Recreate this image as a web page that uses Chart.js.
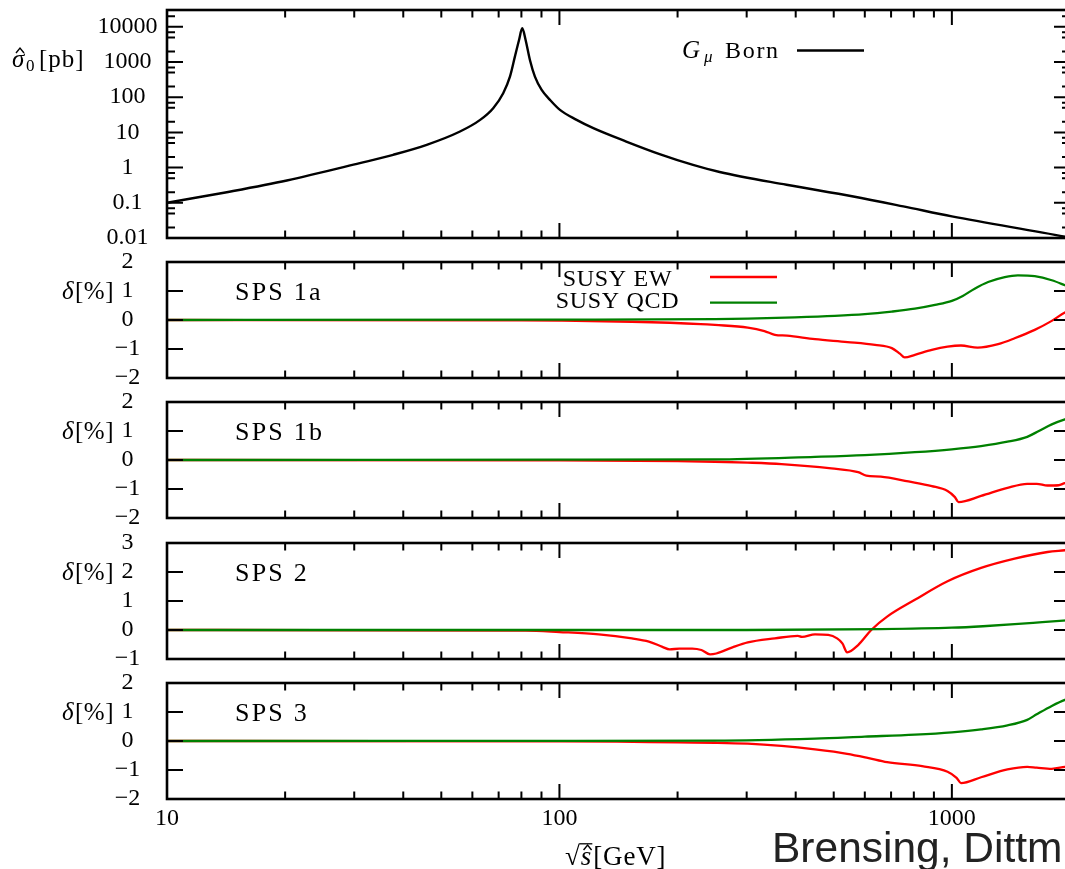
<!DOCTYPE html>
<html><head><meta charset="utf-8">
<script src="https://cdn.jsdelivr.net/npm/chart.js@4.4.1/dist/chart.umd.min.js"></script>
<style>
html,body{margin:0;padding:0;overflow:hidden;background:#fff;width:1065px;height:869px;position:relative;}
canvas.pc{position:absolute;left:0;}
</style></head><body>
<script>
// ---------------- data ----------------
const xTickValues = [10, 100, 1000];
const bornTickValues = [0.01, 0.1, 1, 10, 100, 1000, 10000];

const bornX = [10, 14.2, 20.2, 31, 37.7, 45.9, 55.8, 62.8, 67.8, 71.9, 74.8, 77, 78.9, 80.4, 82, 84.1, 86.6, 90.1, 94.6, 100.3, 110.6, 122, 148, 180, 219, 256, 379, 561, 752, 1000, 1941, 2000];
const bornY = [0.1, 0.2, 0.43, 1.34, 2.31, 4.43, 10.6, 22.7, 48.8, 130, 384, 1420, 4230, 9080, 4230, 1140, 384, 161, 84, 43.6, 22.7, 13.2, 5.5, 2.42, 1.19, 0.75, 0.325, 0.151, 0.079, 0.041, 0.0109, 0.0102];

const sps1aEwX = [10, 80, 100, 153, 229, 249, 302, 333, 354, 380, 448, 542, 637, 703, 737, 758, 805, 889, 975, 1055, 1163, 1312, 1445, 1626, 1797, 1941, 2000];
const sps1aEwY = [0, -0.01, -0.02, -0.06, -0.14, -0.17, -0.26, -0.38, -0.51, -0.54, -0.66, -0.76, -0.86, -0.97, -1.16, -1.29, -1.20, -1.03, -0.92, -0.88, -0.95, -0.83, -0.63, -0.34, -0.03, 0.26, 0.33];
const sps1aQcdX = [10, 100, 249, 302, 398, 503, 600, 703, 805, 906, 1000, 1066, 1143, 1237, 1364, 1473, 1626, 1797, 1941, 2000];
const sps1aQcdY = [0, 0.01, 0.03, 0.05, 0.09, 0.14, 0.2, 0.29, 0.39, 0.52, 0.66, 0.83, 1.08, 1.31, 1.48, 1.54, 1.51, 1.37, 1.20, 1.13];

const sps1bEwX = [10, 100, 200, 249, 302, 368, 493, 577, 605, 659, 775, 889, 975, 1018, 1040, 1187, 1386, 1556, 1645, 1753, 1870, 1941, 2000];
const sps1bEwY = [0, -0.01, -0.04, -0.06, -0.09, -0.14, -0.29, -0.42, -0.54, -0.57, -0.74, -0.90, -1.07, -1.28, -1.45, -1.24, -0.96, -0.82, -0.82, -0.88, -0.87, -0.80, -0.78];
const sps1bQcdX = [10, 100, 249, 448, 600, 805, 1000, 1187, 1386, 1556, 1666, 1797, 1941, 2000];
const sps1bQcdY = [0, 0.01, 0.02, 0.11, 0.17, 0.27, 0.37, 0.48, 0.63, 0.80, 1.0, 1.23, 1.40, 1.45];

const sps2EwX = [10, 82, 100, 126, 153, 169, 183, 191, 202, 218, 230, 242, 251, 276, 302, 354, 405, 415, 448, 484, 510, 526, 541, 577, 623, 684, 805, 975, 1187, 1445, 1753, 1941, 2000];
const sps2EwY = [0, -0.02, -0.07, -0.15, -0.29, -0.40, -0.58, -0.67, -0.64, -0.64, -0.69, -0.84, -0.81, -0.60, -0.43, -0.29, -0.20, -0.24, -0.15, -0.17, -0.29, -0.46, -0.77, -0.52, 0.0, 0.46, 1.04, 1.68, 2.14, 2.46, 2.69, 2.75, 2.77];
const sps2QcdX = [10, 300, 659, 1000, 1200, 1445, 1700, 2000];
const sps2QcdY = [0, 0.0, 0.03, 0.08, 0.13, 0.2, 0.27, 0.34];

const sps3EwX = [10, 100, 140, 200, 249, 302, 368, 448, 541, 610, 684, 840, 975, 1028, 1055, 1187, 1386, 1556, 1645, 1797, 1941, 2000];
const sps3EwY = [0, -0.01, -0.02, -0.05, -0.06, -0.09, -0.17, -0.29, -0.44, -0.58, -0.73, -0.87, -1.06, -1.27, -1.45, -1.25, -0.98, -0.89, -0.92, -0.96, -0.89, -0.87];
const sps3QcdX = [10, 100, 249, 448, 600, 805, 1000, 1187, 1386, 1556, 1645, 1797, 1941, 2000];
const sps3QcdY = [0, 0.005, 0.01, 0.08, 0.15, 0.22, 0.30, 0.40, 0.54, 0.73, 0.92, 1.21, 1.42, 1.47];

const panelNames = ['SPS 1a', 'SPS 1b', 'SPS 2', 'SPS 3'];
const deltaRanges = [[-2, 2], [-2, 2], [-1, 3], [-2, 2]];
const ewSeries = [[sps1aEwX, sps1aEwY], [sps1bEwX, sps1bEwY], [sps2EwX, sps2EwY], [sps3EwX, sps3EwY]];
const qcdSeries = [[sps1aQcdX, sps1aQcdY], [sps1bQcdX, sps1bQcdY], [sps2QcdX, sps2QcdY], [sps3QcdX, sps3QcdY]];
const legendEw = 'SUSY EW';
const legendQcd = 'SUSY QCD';
const xRange = [10, 2000];
const bornRange = [0.01, 30000];

// ---------------- layout / style ----------------
const SERIF = "'Liberation Serif', 'Times New Roman', serif";
const SANS = "'Liberation Sans', Arial, sans-serif";
const PANEL_TOP = [10, 262, 402, 543, 683];
const PANEL_BOTTOM = [238, 378, 518, 659, 799];
const PLOT_LEFT = 167, PLOT_RIGHT = 1070, CANVAS_W = 1080, PAD = 50, XAXIS_H = 70;
const LABEL_CX = 127.5;
const RED = '#ff0000', GREEN = '#008000';

Chart.defaults.font.family = SERIF;
Chart.defaults.font.size = 24;
Chart.defaults.color = '#000';

const mctx = document.createElement('canvas').getContext('2d');
function measure(t, font) { mctx.font = font; return mctx.measureText(t).width; }
function fmtDelta(v) { return v < 0 ? '\u2212' + Math.abs(v) : String(v); }
function fmtPlain(v) { return String(v); }
function tickPad(labels) {
  const w = Math.max(...labels.map(l => measure(l, '24px ' + SERIF)));
  return PLOT_LEFT - LABEL_CX - w / 2;
}
function pts(xs, ys) { return xs.map((x, i) => ({ x, y: ys[i] })); }

function setLS(ctx, v) { if ('letterSpacing' in ctx) ctx.letterSpacing = v; }

function txt(ctx, t, x, y, font, opts = {}) {
  ctx.font = font;
  setLS(ctx, opts.ls || '0px');
  ctx.textAlign = opts.align || 'left';
  ctx.textBaseline = 'alphabetic';
  ctx.fillStyle = opts.color || '#000';
  ctx.fillText(t, x, y);
  const w = ctx.measureText(t).width;
  setLS(ctx, '0px');
  return w;
}
function caret(ctx, cx, yBase, w, h) {
  ctx.save();
  ctx.beginPath();
  ctx.moveTo(cx - w, yBase); ctx.lineTo(cx, yBase - h); ctx.lineTo(cx + w, yBase);
  ctx.lineWidth = 1.4; ctx.strokeStyle = '#000'; ctx.lineJoin = 'miter';
  ctx.stroke();
  ctx.restore();
}

function xMinorValues() {
  const out = [];
  xTickValues.forEach(d => { for (let k = 2; k <= 9; k++) { const v = k * d; if (v < xRange[1]) out.push(v); } });
  return out;
}
function bornMinorValues() {
  const out = [];
  bornTickValues.forEach(d => [2, 5, 7].forEach(k => { const v = k * d; if (v < bornRange[1]) out.push(v); }));
  return out;
}

function framePlugin(idx) {
  return {
    id: 'frame' + idx,
    afterDraw(chart) {
      const { ctx, chartArea: a, scales: { x, y } } = chart;
      ctx.save();
      ctx.strokeStyle = '#000';
      ctx.lineCap = 'butt';
      ctx.lineWidth = 2;
      const vt = (px, len) => {
        ctx.beginPath();
        ctx.moveTo(px, a.bottom); ctx.lineTo(px, a.bottom - len);
        ctx.moveTo(px, a.top); ctx.lineTo(px, a.top + len);
        ctx.stroke();
      };
      const ht = (py, len) => {
        ctx.beginPath();
        ctx.moveTo(a.left, py); ctx.lineTo(a.left + len, py);
        ctx.moveTo(a.right, py); ctx.lineTo(a.right - len, py);
        ctx.stroke();
      };
      xTickValues.forEach(v => vt(x.getPixelForValue(v), 15));
      xMinorValues().forEach(v => vt(x.getPixelForValue(v), 7.5));
      if (idx === 0) {
        bornTickValues.forEach(v => ht(y.getPixelForValue(v), 16));
        bornMinorValues().forEach(v => ht(y.getPixelForValue(v), 8));
      } else {
        const [lo, hi] = deltaRanges[idx - 1];
        for (let v = lo + 1; v < hi; v++) ht(y.getPixelForValue(v), 16);
      }
      ctx.lineWidth = 2.6;
      ctx.strokeRect(a.left, a.top, a.right - a.left, a.bottom - a.top);

      const T = a.top;           // canvas y of the panel top
      if (idx === 0) {
        const Y = py => T + (py - PANEL_TOP[0]);   // page y -> canvas y
        txt(ctx, '\u03c3', 12, Y(67), 'italic 25px ' + SERIF);
        caret(ctx, 20, Y(53), 4, 5);
        txt(ctx, '0', 26, Y(71), '17px ' + SERIF);
        txt(ctx, '[pb]', 39, Y(67), '25px ' + SERIF, { ls: '1px' });
        txt(ctx, 'G', 682, Y(58), 'italic 25px ' + SERIF);
        txt(ctx, '\u03bc', 704, Y(62), 'italic 17px ' + SERIF);
        txt(ctx, 'Born', 725, Y(58), '24px ' + SERIF, { ls: '1.7px' });
        ctx.beginPath(); ctx.moveTo(797, Y(50.5)); ctx.lineTo(864, Y(50.5));
        ctx.lineWidth = 2.4; ctx.strokeStyle = chart.data.datasets[0].borderColor; ctx.stroke();
      } else {
        txt(ctx, '\u03b4', 62, T + 37, 'italic 25px ' + SERIF);
        txt(ctx, '[%]', 75, T + 37, '25px ' + SERIF, { ls: '0.5px' });
        txt(ctx, panelNames[idx - 1], 235, T + 38, '26px ' + SERIF, { ls: '2.2px' });
        if (idx === 1) {
          txt(ctx, legendEw, 617.5, T + 23.5, '24px ' + SERIF, { ls: '0.7px', align: 'center' });
          txt(ctx, legendQcd, 617.5, T + 46, '24px ' + SERIF, { ls: '0.7px', align: 'center' });
          const dsEw = chart.data.datasets[1], dsQ = chart.data.datasets[0];
          ctx.lineWidth = 2.3;
          ctx.beginPath(); ctx.moveTo(710, T + 15); ctx.lineTo(777, T + 15); ctx.strokeStyle = dsEw.borderColor; ctx.stroke();
          ctx.beginPath(); ctx.moveTo(710, T + 40.7); ctx.lineTo(777, T + 40.7); ctx.strokeStyle = dsQ.borderColor; ctx.stroke();
        }
        if (idx === 4) {
          const bl = a.bottom + 66;
          const sq = '\u221a';
          const wsq = txt(ctx, sq, 565, bl, '27px ' + SERIF);
          mctx.font = '27px ' + SERIF;
          const asc = mctx.measureText(sq).actualBoundingBoxAscent;
          const ws = txt(ctx, 's', 565 + wsq + 1, bl, 'italic 27px ' + SERIF);
          caret(ctx, 565 + wsq + 1 + ws / 2 + 1.5, bl - 15, 4, 5);
          ctx.beginPath(); ctx.moveTo(565 + wsq - 0.5, bl - asc + 0.8); ctx.lineTo(565 + wsq + ws + 2, bl - asc + 0.8);
          ctx.lineWidth = 1.3; ctx.strokeStyle = '#000'; ctx.stroke();
          txt(ctx, '[GeV]', 565 + wsq + ws + 3, bl, '27px ' + SERIF, { ls: '0.8px' });
          txt(ctx, 'Brensing, Dittm', 772, a.bottom + 63, '42.5px ' + SANS, { color: '#222' });
        }
      }
      ctx.restore();
    }
  };
}

function makeChart(idx) {
  const T = PANEL_TOP[idx], B = PANEL_BOTTOM[idx];
  const last = idx === 4;
  const cv = document.createElement('canvas');
  cv.className = 'pc';
  const h = (B - T) + PAD + (last ? XAXIS_H : PAD);
  cv.width = CANVAS_W; cv.height = h;
  cv.style.top = (T - PAD) + 'px';
  cv.style.width = CANVAS_W + 'px'; cv.style.height = h + 'px';
  document.body.appendChild(cv);

  let datasets, yScale;
  const common = { pointRadius: 0, borderWidth: 2.3, fill: false, cubicInterpolationMode: 'monotone', borderJoinStyle: 'round' };
  if (idx === 0) {
    datasets = [Object.assign({}, common, { label: 'G\u03bc Born', data: pts(bornX, bornY), borderColor: '#000', borderWidth: 2.4 })];
    const labels = bornTickValues.map(fmtPlain);
    yScale = {
      type: 'logarithmic', min: bornRange[0], max: bornRange[1],
      grid: { display: false, drawTicks: false }, border: { display: false },
      afterBuildTicks: s => { s.ticks = bornTickValues.map(v => ({ value: v })); },
      ticks: { callback: v => fmtPlain(v), crossAlign: 'center', padding: tickPad(labels), autoSkip: false, font: { size: 24 } },
      afterFit: s => { s.width = PLOT_LEFT; }
    };
  } else {
    const k = idx - 1;
    const [lo, hi] = deltaRanges[k];
    const vals = []; for (let v = lo; v <= hi; v++) vals.push(v);
    datasets = [
      Object.assign({}, common, { label: legendQcd, data: pts(qcdSeries[k][0], qcdSeries[k][1]), borderColor: GREEN }),
      Object.assign({}, common, { label: legendEw, data: pts(ewSeries[k][0], ewSeries[k][1]), borderColor: RED })
    ];
    yScale = {
      type: 'linear', min: lo, max: hi,
      grid: { display: false, drawTicks: false }, border: { display: false },
      afterBuildTicks: s => { s.ticks = vals.map(v => ({ value: v })); },
      ticks: { callback: v => fmtDelta(v), crossAlign: 'center', padding: tickPad(vals.map(fmtDelta)), autoSkip: false, font: { size: 24 } },
      afterFit: s => { s.width = PLOT_LEFT; }
    };
  }
  return new Chart(cv, {
    type: 'line',
    data: { datasets },
    options: {
      responsive: false, animation: false, devicePixelRatio: 1,
      layout: { padding: { left: 0, right: CANVAS_W - PLOT_RIGHT, top: PAD, bottom: last ? 0 : PAD } },
      plugins: { legend: { display: false }, tooltip: { enabled: false } },
      scales: {
        x: {
          type: 'logarithmic', min: xRange[0], max: xRange[1], display: last,
          grid: { display: false, drawTicks: false }, border: { display: false },
          afterBuildTicks: s => { s.ticks = xTickValues.map(v => ({ value: v })); },
          ticks: { callback: v => fmtPlain(v), padding: 5, maxRotation: 0, autoSkip: false, font: { size: 24 } },
          afterFit: s => { s.height = last ? XAXIS_H : 0; }
        },
        y: yScale
      }
    },
    plugins: [framePlugin(idx)]
  });
}

for (let i = 0; i < 5; i++) makeChart(i);
</script>
</body></html>
